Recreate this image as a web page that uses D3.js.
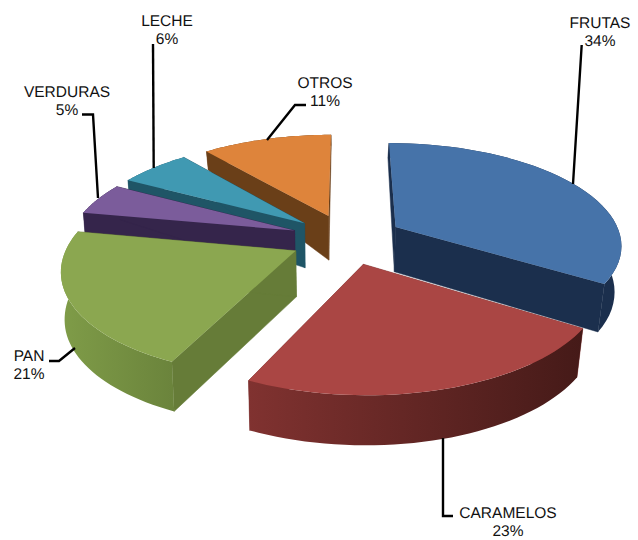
<!DOCTYPE html>
<html><head><meta charset="utf-8">
<script src="https://cdnjs.cloudflare.com/ajax/libs/d3/7.8.5/d3.min.js"></script>
<style>html,body{margin:0;padding:0;background:#fff}svg{display:block}
text{font-family:"Liberation Sans",Arial,sans-serif;font-size:15.5px;fill:#111;text-anchor:middle;text-rendering:geometricPrecision}</style>
</head><body><svg id="c" width="638" height="540"></svg>
<script>
// Data
const categories = ["FRUTAS","CARAMELOS","PAN","VERDURAS","LECHE","OTROS"];
const shares = [34,23,21,5,6,11];
// Styles
const topColors = ["#4673a9","#aa4644","#8ba750","#7b5c9b","#4099b2","#de843b"];
const wallColors = ["#1b2f4d","#7a2e2c","#667c38","#35254b","#1f5566","#6a3f18"];
const rimFrom = ["#1b2f4d","#803230","#7f9c48","#35254b","#1f5566","#6a3f18"];
const rimTo = ["#1b2f4d","#451a18","#6b843c","#35254b","#1f5566","#6a3f18"];
// Label layout: [x, y of first line baseline], leader polyline
const labelAt = [[600,28],[508,518],[29,361],[67,97],[167,26],[325,88]];
const leaders = [
 [[581.7,45],[573,184]],
 [[453,516],[443,516],[443,438]],
 [[49,361],[59,361],[75,348]],
 [[82,114.5],[93,114.5],[98,198]],
 [[153,44],[153.7,168]],
 [[306,105],[295,105],[267,140]]
];

// Perspective projection of the pie plane
const cx=347, cy=239, R=226, B=101, persp=0.16, explode=0.25;
const project=(x,v)=>{const s=1/(1-persp*v);return [cx+R*x*s, cy+B*v*s];};
const depth=d3.scaleLinear().domain([-1.2,-0.235,0.4,1.2]).range([12,44,48,50]);
const lower=(x,v)=>{const p=project(x,v);return [cx+(p[0]-cx)*(p[0]<cx?0.987:0.975), p[1]+depth(v)];};

const svg=d3.select("#c");
const defs=svg.append("defs");
const line=d3.line();
const arcs=d3.pie().sort(null).startAngle(0).endAngle(2*Math.PI)(shares);
const order=[5,4,3,2,0,1];

order.forEach(i=>{
  const a=arcs[i], mid=(a.startAngle+a.endAngle)/2;
  const ox=explode*Math.sin(mid), ov=-explode*Math.cos(mid);
  const g=svg.append("g");
  const angles=d3.range(0,41).map(k=>a.startAngle+(a.endAngle-a.startAngle)*k/40);
  const P=t=>[ox+Math.sin(t), ov-Math.cos(t)];
  const topRim=angles.map(t=>project(...P(t)));
  const botRim=angles.map(t=>lower(...P(t)));
  const apexT=project(ox,ov), apexB=lower(ox,ov);
  // radial walls
  [a.startAngle,a.endAngle].forEach(t=>{
    g.append("path").attr("fill",wallColors[i]).attr("stroke",wallColors[i]).attr("stroke-width",.5)
     .attr("d",line([apexT,project(...P(t)),lower(...P(t)),apexB])+"Z");
  });
  // rim with horizontal shading
  const xs=d3.extent(topRim,d=>d[0]);
  const id="rim"+i;
  const lg=defs.append("linearGradient").attr("id",id).attr("gradientUnits","userSpaceOnUse")
    .attr("x1",xs[0]).attr("x2",xs[1]).attr("y1",0).attr("y2",0);
  lg.append("stop").attr("offset",0).attr("stop-color",rimFrom[i]);
  lg.append("stop").attr("offset",1).attr("stop-color",rimTo[i]);
  g.append("path").attr("fill",`url(#${id})`)
   .attr("d",line(topRim.concat(botRim.slice().reverse()))+"Z");
  // top face
  g.append("path").attr("fill",topColors[i])
   .attr("d",line([apexT].concat(topRim))+"Z");
});

// Leaders
svg.append("g").selectAll("path").data(leaders).join("path")
  .attr("fill","none").attr("stroke","#000").attr("stroke-width",2.4)
  .attr("d",d=>line(d));

// Labels
const lab=svg.append("g").selectAll("g").data(categories).join("g")
  .attr("transform",(d,i)=>`translate(${labelAt[i][0]},${labelAt[i][1]})`);
lab.append("text").text(d=>d);
lab.append("text").attr("y",18).text((d,i)=>shares[i]+"%");
</script></body></html>
